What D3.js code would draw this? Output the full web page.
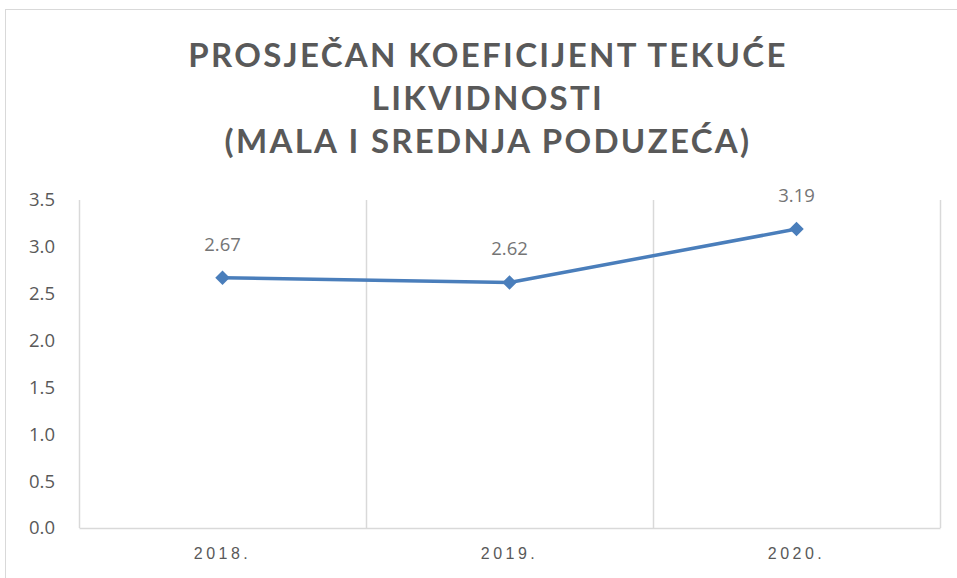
<!DOCTYPE html>
<html>
<head>
<meta charset="utf-8">
<script src="https://cdn.jsdelivr.net/npm/d3@7"></script>
<style>
  body { margin: 0; background: #fff; }
  svg { display: block; }
</style>
</head>
<body>
<div id="chart"></div>
<script>
const years = ["2018.", "2019.", "2020."];
const values = [2.67, 2.62, 3.19];
const yTicks = [0, 0.5, 1, 1.5, 2, 2.5, 3, 3.5];
const titleLines = ["PROSJEČAN KOEFICIJENT TEKUĆE", "LIKVIDNOSTI", "(MALA I SREDNJA PODUZEĆA)"];

const W = 957, H = 578;
const margin = { top: 200, right: 17, bottom: 50, left: 79 };
const width = W - margin.left - margin.right;
const height = H - margin.top - margin.bottom;

const svg = d3.select("#chart").append("svg")
  .attr("width", W)
  .attr("height", H);

// chart frame
svg.append("rect")
  .attr("x", 5.5).attr("y", 9.5)
  .attr("width", W + 10).attr("height", H + 10)
  .attr("fill", "none")
  .attr("stroke", "#d9d9d9");

// title
svg.append("g").selectAll("text")
  .data(titleLines)
  .enter().append("text")
  .attr("x", 488)
  .attr("y", (d, i) => 67 + i * 43)
  .attr("text-anchor", "middle")
  .attr("font-family", "Lato, sans-serif")
  .attr("font-weight", "bold")
  .attr("font-size", 33)
  .attr("letter-spacing", 2.3)
  .attr("fill", "#595959")
  .text(d => d);

const g = svg.append("g")
  .attr("transform", `translate(${margin.left},${margin.top})`);

const x = d3.scaleBand().domain(years).range([0, width]);
const y = d3.scaleLinear().domain([0, 3.5]).range([height, 0]);

// vertical gridlines at category boundaries
const bounds = years.map(d => x(d)).concat([width]);
g.selectAll(".vgrid")
  .data(bounds)
  .enter().append("line")
  .attr("x1", d => d + 0.5).attr("x2", d => d + 0.5)
  .attr("y1", 0).attr("y2", height)
  .attr("stroke", "#d9d9d9")
  .attr("stroke-width", 1.5);

// x axis
const xAxis = g.append("g")
  .attr("transform", `translate(0,${height})`)
  .call(d3.axisBottom(x).tickSize(0).tickPadding(20));
xAxis.select(".domain").attr("stroke", "#d9d9d9").attr("stroke-width", 1.5);
xAxis.selectAll("text")
  .attr("font-family", "Liberation Sans, sans-serif")
  .attr("font-size", 16)
  .attr("letter-spacing", 3.5)
  .attr("fill", "#595959");

// y axis
const yAxis = g.append("g")
  .call(d3.axisLeft(y).tickValues(yTicks).tickFormat(d3.format(".1f")).tickSize(0).tickPadding(24));
yAxis.select(".domain").remove();
yAxis.selectAll("text")
  .attr("font-family", "'Open Sans', sans-serif")
  .attr("font-size", 18.5)
  .attr("fill", "#595959");

const pts = years.map((d, i) => ({ year: d, value: values[i] }));

const line = d3.line()
  .x(d => x(d.year) + x.bandwidth() / 2)
  .y(d => y(d.value));

g.append("path")
  .datum(pts)
  .attr("d", line)
  .attr("fill", "none")
  .attr("stroke", "#4a7ebb")
  .attr("stroke-width", 3.5)
  .attr("stroke-linejoin", "round");

g.selectAll(".marker")
  .data(pts)
  .enter().append("path")
  .attr("transform", d => `translate(${x(d.year) + x.bandwidth() / 2},${y(d.value)})`)
  .attr("d", d3.symbol().type(d3.symbolDiamond2).size(135))
  .attr("fill", "#4a7ebb");

g.selectAll(".label")
  .data(pts)
  .enter().append("text")
  .attr("x", d => x(d.year) + x.bandwidth() / 2)
  .attr("y", d => y(d.value) - 27)
  .attr("text-anchor", "middle")
  .attr("font-family", "'Open Sans', sans-serif")
  .attr("font-size", 18.5)
  .attr("fill", "#757575")
  .text(d => d3.format(".2f")(d.value));
</script>
</body>
</html>
